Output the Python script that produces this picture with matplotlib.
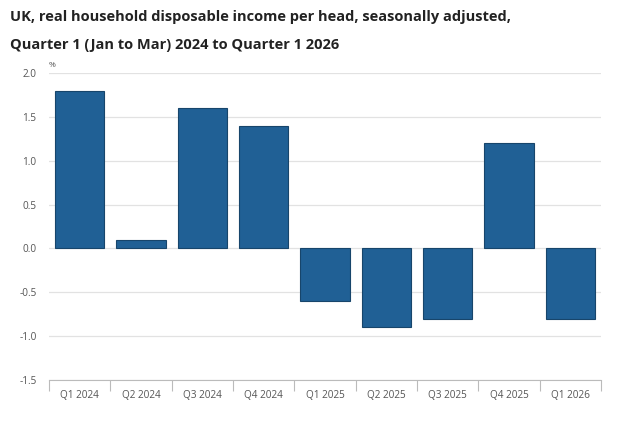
import matplotlib
matplotlib.use("Agg")
import matplotlib.pyplot as plt
import numpy as np

categories = ["Q1 2024", "Q2 2024", "Q3 2024", "Q4 2024", "Q1 2025",
              "Q2 2025", "Q3 2025", "Q4 2025", "Q1 2026"]
values = [1.8, 0.1, 1.6, 1.4, -0.6, -0.9, -0.8, 1.2, -0.8]
yticks = [-1.5, -1.0, -0.5, 0.0, 0.5, 1.0, 1.5, 2.0]

plt.rcParams['font.family'] = ['Open Sans', 'DejaVu Sans']

fig = plt.figure(figsize=(6.34, 4.30), dpi=100)
ax = fig.add_axes([49/634, 1-380/430, (601-49)/634, (380-73)/430])

x = np.arange(len(categories))
ax.bar(x, values, width=0.8, color="#206095", edgecolor="#17456b", linewidth=0.8, zorder=3)

ax.set_xlim(-0.5, len(categories) - 0.5)
ax.set_ylim(-1.5, 2.0)
ax.set_yticks(yticks)
ax.set_yticklabels([f"{v:.1f}" for v in yticks], color="#555555", fontsize=7.2)
ax.tick_params(axis='y', length=0, pad=9)
ax.yaxis.grid(True, color="#e2e2e2", linewidth=0.9, zorder=0)

ax.set_xticks(x)
ax.set_xticklabels(categories, color="#555555", fontsize=7.2)
ax.tick_params(axis='x', length=0, pad=7)
ax.set_xticks(np.arange(len(categories) + 1) - 0.5, minor=True)
ax.tick_params(axis='x', which='minor', length=8, color="#bbbbbb", width=0.8)

for s in ["top", "right", "left"]:
    ax.spines[s].set_visible(False)
ax.spines["bottom"].set_color("#bbbbbb")
ax.spines["bottom"].set_linewidth(0.8)

ax.text(0.0, 1.012, "%", transform=ax.transAxes, fontsize=6, color="#555555", ha="left", va="bottom")

fig.text(10/634, 1-17/430, "UK, real household disposable income per head, seasonally adjusted,",
         fontsize=10.5, fontweight="bold", color="#222222", va="center", ha="left")
fig.text(10/634, 1-45/430, "Quarter 1 (Jan to Mar) 2024 to Quarter 1 2026",
         fontsize=10.5, fontweight="bold", color="#222222", va="center", ha="left")

fig.savefig("out.png", dpi=100, facecolor="white")
